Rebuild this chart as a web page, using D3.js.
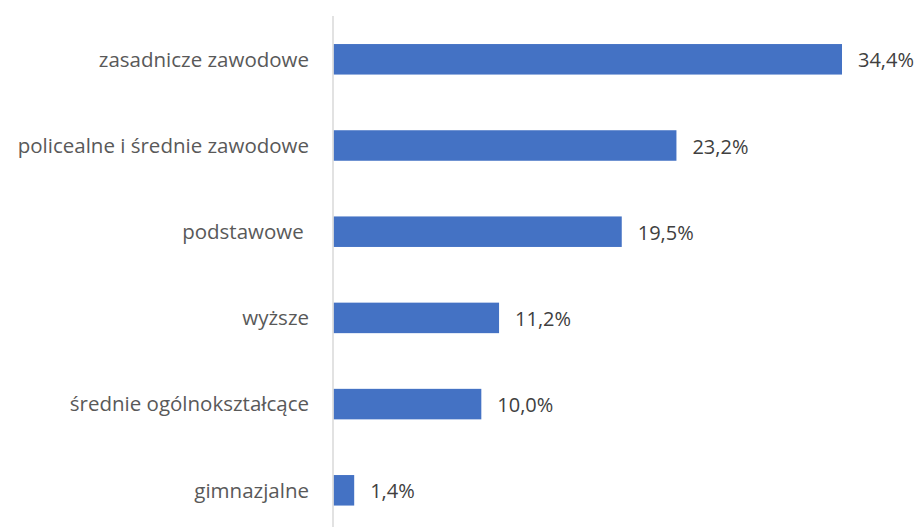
<!DOCTYPE html>
<html>
<head>
<meta charset="utf-8">
<script src="https://cdn.jsdelivr.net/npm/d3@7"></script>
<style>
body{margin:0;background:#fff;}
</style>
</head>
<body>
<div id="chart"></div>
<script>
var categories = ["zasadnicze zawodowe", "policealne i średnie zawodowe", "podstawowe ", "wyższe", "średnie ogólnokształcące", "gimnazjalne"];
var values = [34.4, 23.2, 19.5, 11.2, 10.0, 1.4];

var W = 918, H = 527;
var svg = d3.select("#chart").append("svg")
	.attr("width", W)
	.attr("height", H);

var x = d3.scaleLinear().domain([0, 34.4]).range([333.5, 842]);
var y = d3.scaleBand().domain(categories).range([16.2, 533.4]).paddingInner(0.646).paddingOuter(0.323);

var data = categories.map(function(c, i){ return {cat: c, val: values[i]}; });

// bars
svg.selectAll("rect.bar")
	.data(data)
	.enter()
	.append("rect")
	.attr("class", "bar")
	.attr("x", x(0))
	.attr("y", function(d){ return y(d.cat); })
	.attr("width", function(d){ return x(d.val) - x(0); })
	.attr("height", y.bandwidth())
	.attr("fill", "#4472c4");

// axis line
svg.append("line")
	.attr("x1", 333).attr("x2", 333)
	.attr("y1", 16).attr("y2", H)
	.attr("stroke", "#d9d9d9")
	.attr("stroke-width", 1.5);

// category labels
svg.selectAll("text.cat")
	.data(data)
	.enter()
	.append("text")
	.attr("class", "cat")
	.attr("x", 309)
	.attr("y", function(d){ return y(d.cat) + y.bandwidth()/2; })
	.attr("dy", "0.36em")
	.attr("text-anchor", "end")
	.style("white-space", "pre")
	.attr("font-family", "'Open Sans', sans-serif")
	.attr("font-size", 20.5)
	.attr("fill", "#595959")
	.text(function(d){ return d.cat; });

// value labels
svg.selectAll("text.val")
	.data(data)
	.enter()
	.append("text")
	.attr("class", "val")
	.attr("x", function(d){ return x(d.val) + 16; })
	.attr("y", function(d){ return y(d.cat) + y.bandwidth()/2; })
	.attr("dy", "0.4em")
	.attr("font-family", "'Open Sans', sans-serif")
	.attr("font-size", 20)
	.attr("fill", "#404040")
	.text(function(d){ return d.val.toFixed(1).replace(".", ",") + "%"; });
</script>
</body>
</html>
